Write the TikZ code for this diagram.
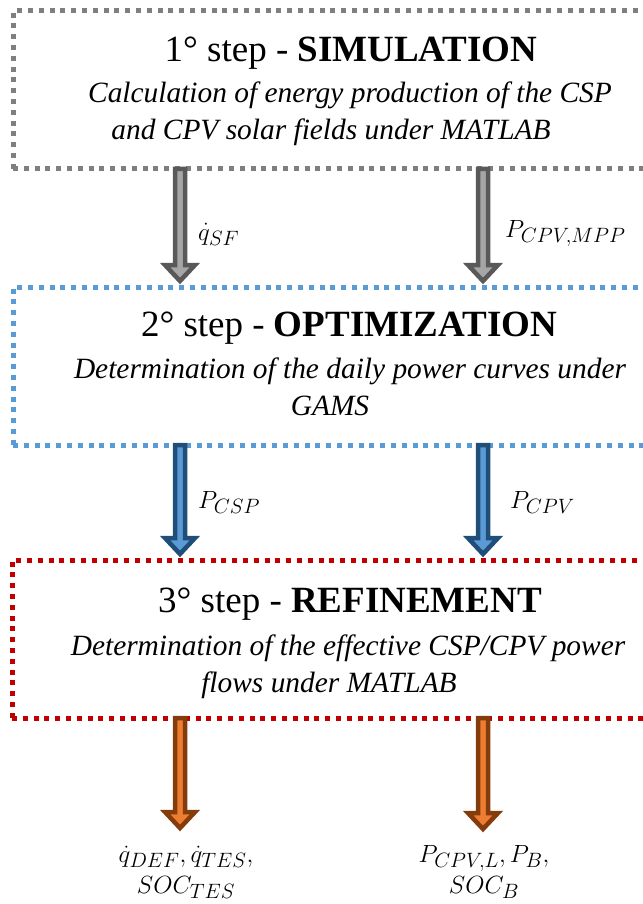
\documentclass[tikz,border=0pt]{standalone}
\usepackage{fontspec}
\setmainfont{Liberation Serif}
\usetikzlibrary{calc}
% smaller subscripts relative to the base letter
\renewcommand\defaultscriptratio{.62}

\definecolor{boxgray}{HTML}{7F7F7F}
\definecolor{boxblue}{HTML}{5B9BD5}
\definecolor{boxred}{HTML}{C00000}
\definecolor{graydark}{HTML}{595959}
\definecolor{graylight}{HTML}{A6A6A6}
\definecolor{bluedark}{HTML}{1F4E79}
\definecolor{bluelight}{HTML}{5B9BD5}
\definecolor{orangedark}{HTML}{843C0C}
\definecolor{orangelight}{HTML}{ED7D31}

\tikzset{
  stepbox/.style={line width=5pt, dash pattern=on 5pt off 5.8pt,
    minimum width=660pt, minimum height=158pt, anchor=north west,
    inner sep=0pt, outer sep=0pt},
  headline/.style={font=\fontsize{37}{40}\selectfont, anchor=base, inner sep=0pt},
  subline/.style={font=\fontsize{29.4}{34}\selectfont\itshape, anchor=base, inner sep=0pt},
  flowlabel/.style={font=\fontsize{32}{34}\selectfont, anchor=base west, inner sep=0pt},
  outlabel/.style={font=\fontsize{32}{31}\selectfont, anchor=base, align=center, inner sep=0pt},
}

% block arrow with dark outline and light core, from #1 (top) to #2 (tip)
\newcommand\flowarrow[3]{%
  \draw[line width=4.5pt, line join=miter, draw=#3dark, fill=#3light]
    ($(#1)+(-5,0)$) -- ($(#1)+(5,0)$) -- ($(#2)+(5,-16)$) -- ($(#2)+(15,-16)$)
    -- (#2) -- ($(#2)+(-15,-16)$) -- ($(#2)+(-5,-16)$) -- cycle;}

\begin{document}
\begin{tikzpicture}[x=1pt, y=-1pt]
\useasboundingbox (0,0) rectangle (642,904);

% the three step frames (open to the right)
\node[stepbox, draw=boxgray] (s1) at (13,11) {};
\node[stepbox, draw=boxblue] (s2) at (13,287) {};
\node[stepbox, draw=boxred]  (s3) at (12,560) {};

% step texts
\node[headline] (h1) at (351,62) {1° step - \textbf{SIMULATION}};
\node[subline] (t1a) at (350,103) {Calculation of energy production of the CSP};
\node[subline] (t1b) at (331,140) {and CPV solar fields under MATLAB};

\node[headline] (h2) at (349,336) {2° step - \textbf{OPTIMIZATION}};
\node[subline] (t2a) at (350,378) {Determination of the daily power curves under};
\node[subline] (t2b) at (330,415) {GAMS};

\node[headline] (h3) at (350,612) {3° step - \textbf{REFINEMENT}};
\node[subline] (t3a) at (348,655) {Determination of the effective CSP/CPV power};
\node[subline] (t3b) at (329,692) {flows under MATLAB};

% arrow columns
\coordinate (xl) at (180,0);
\coordinate (xr) at (483,0);

\coordinate (a1s) at (s1.south -| xl);
\coordinate (a1e) at ($(s2.north -| xl)+(0,-6)$);
\coordinate (a2s) at (s1.south -| xr);
\coordinate (a2e) at ($(s2.north -| xr)+(0,-6)$);
\coordinate (b1s) at (s2.south -| xl);
\coordinate (b1e) at ($(s3.north -| xl)+(0,-6)$);
\coordinate (b2s) at (s2.south -| xr);
\coordinate (b2e) at ($(s3.north -| xr)+(0,-6)$);
\coordinate (c1s) at (s3.south -| xl);
\coordinate (c1e) at (180,828);
\coordinate (c2s) at (s3.south -| xr);
\coordinate (c2e) at (483,829);

\flowarrow{a1s}{a1e}{gray}
\flowarrow{a2s}{a2e}{gray}
\flowarrow{b1s}{b1e}{blue}
\flowarrow{b2s}{b2e}{blue}
\flowarrow{c1s}{c1e}{orange}
\flowarrow{c2s}{c2e}{orange}

% arrow labels
\node[flowlabel] (l1) at (198,240) {$\dot q_{SF}$};
\node[flowlabel] (l2) at (505,237) {$P_{CPV,MPP}$};
\node[flowlabel] (l3) at (198,508) {$P_{CSP}$};
\node[flowlabel] (l4) at (510,508) {$P_{CPV}$};

% outputs of the refinement step (anchored on the baseline of the lower line)
\node[outlabel] (o1) at (186,893) {$\dot q_{DEF}, \dot q_{TES},$\\ $SOC_{TES}$};
\node[outlabel] (o2) at (484,893) {$P_{CPV,L}, P_{B},$\\ $SOC_{B}$};
\end{tikzpicture}
\end{document}
